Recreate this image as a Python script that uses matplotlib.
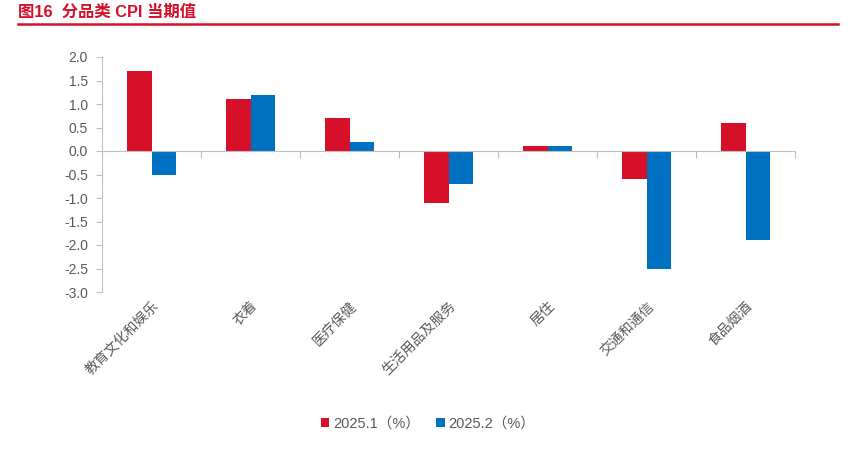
import matplotlib
matplotlib.use("Agg")
import matplotlib.pyplot as plt
import numpy as np
from matplotlib.lines import Line2D

plt.rcParams['font.family'] = ['Liberation Sans', 'Noto Sans CJK SC', 'DejaVu Sans']

categories = ['教育文化和娱乐', '衣着', '医疗保健', '生活用品及服务', '居住', '交通和通信', '食品烟酒']
jan = [1.7, 1.1, 0.7, -1.1, 0.1, -0.6, 0.6]
feb = [-0.5, 1.2, 0.2, -0.7, 0.1, -2.5, -1.9]
series_names = ['2025.1（%）', '2025.2（%）']
yticks = [2.0, 1.5, 1.0, 0.5, 0.0, -0.5, -1.0, -1.5, -2.0, -2.5, -3.0]

RED = '#D7102A'
BLUE = '#0070C0'
GREY = '#595959'
LGREY = '#BFBFBF'

fig = plt.figure(figsize=(8.56, 4.54), dpi=100)
ax = fig.add_axes([102/856, 1-292/454, (795-102)/856, (292-57)/454])

x = np.arange(len(categories))
w = 0.245
ax.bar(x - w/2, jan, w, color=RED, label=series_names[0])
ax.bar(x + w/2, feb, w, color=BLUE, label=series_names[1])

ax.set_xlim(-0.5, len(categories) - 0.5)
ax.set_ylim(-3.0, 2.0)
ax.set_yticks(yticks)
ax.set_yticklabels([f'{v:.1f}' for v in yticks])
ax.tick_params(axis='y', colors=LGREY, labelcolor=GREY, labelsize=10, length=4, width=0.8, pad=6)

for s in ['top', 'right']:
    ax.spines[s].set_visible(False)
ax.spines['left'].set_color(LGREY)
ax.spines['left'].set_linewidth(0.8)
ax.spines['bottom'].set_position(('data', 0))
ax.spines['bottom'].set_color(LGREY)
ax.spines['bottom'].set_linewidth(0.8)

# boundary ticks on zero line
ax.set_xticks(np.arange(len(categories) + 1) - 0.5)
ax.set_xticklabels([])
ax.tick_params(axis='x', colors=LGREY, length=5, width=0.8, direction='out')

# category labels at the bottom
sec = ax.secondary_xaxis(0)
sec.set_xticks(x)
sec.set_xticklabels(categories, rotation=45, ha='right', rotation_mode='anchor',
                    fontsize=10, color=GREY)
sec.tick_params(length=0, pad=5)
sec.spines['bottom'].set_visible(False)

# title
fig.text(18/856, 1-12/454, '图16  分品类 CPI 当期值', color=RED, fontsize=11.8,
         fontweight='bold', va='center', ha='left')
fig.add_artist(Line2D([18/856, 838/856], [1-23.5/454, 1-23.5/454], color=RED, lw=1.8,
                      transform=fig.transFigure))

leg = fig.legend(loc='center', bbox_to_anchor=(0.5, 1-424/454), ncol=2, frameon=False,
                 fontsize=10.5, handlelength=0.6, handleheight=0.6, handletextpad=0.25,
                 columnspacing=1.1, labelcolor=GREY)

fig.savefig('out.png', dpi=100)
